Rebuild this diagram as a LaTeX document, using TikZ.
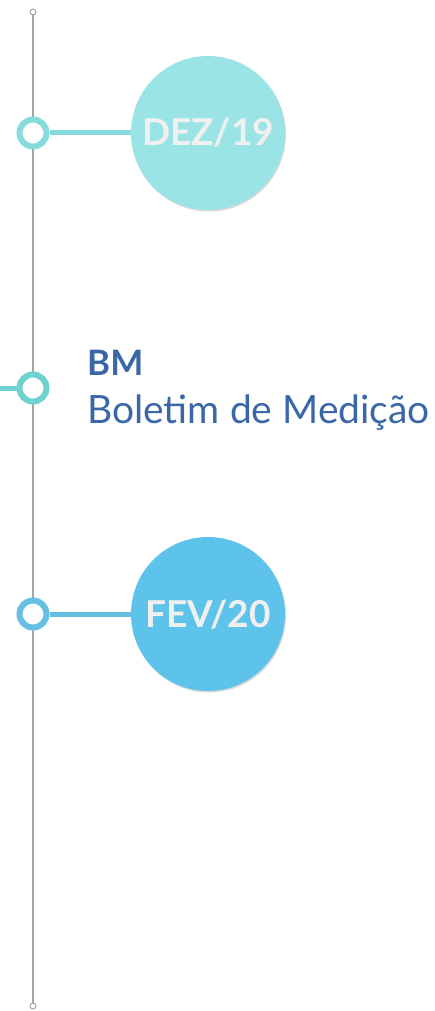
\documentclass[tikz,border=0pt]{standalone}
\usepackage{fontspec}
\setmainfont{Lato}
\usetikzlibrary{shadows}
\definecolor{axisgray}{HTML}{A4A4A4}
\definecolor{dezfill}{HTML}{9AE4E6}
\definecolor{dezring}{HTML}{86DCDD}
\definecolor{bmring}{HTML}{70D2CE}
\definecolor{fevfill}{HTML}{5EC3EB}
\definecolor{fevring}{HTML}{64BFE3}
\definecolor{bmtext}{HTML}{3A67A8}
\definecolor{datetext}{HTML}{F0F0F0}
\tikzset{
  x=1pt, y=-1pt,
  axisline/.style={draw=axisgray, line width=1.5pt},
  endring/.style={circle, draw=axisgray, line width=1pt, fill=white, minimum size=6pt, inner sep=0pt},
  ring/.style={circle, line width=6pt, fill=white, minimum size=27pt, inner sep=0pt},
  stem/.style={line width=5pt},
  bigdot/.style={circle, minimum size=154pt, inner sep=0pt, drop shadow={shadow xshift=1pt, shadow yshift=-1.5pt, opacity=0.3}},
  datelabel/.style={font=\fontsize{37}{40}\selectfont\bfseries, text=datetext},
}
\begin{document}
\begin{tikzpicture}
\useasboundingbox (0,0) rectangle (434,1011);
\coordinate (top) at (33,12);
\coordinate (bot) at (33,1006);
\draw[axisline] (top) -- (bot);
\node[endring] (topend) at (top) {};
\node[endring] (botend) at (bot) {};
% DEZ/19
\node[bigdot, fill=dezfill] (dez) at (208,133) {};
\node[ring, draw=dezring] (dezr) at (33,133) {};
\draw[stem, draw=dezring] (dezr.east) -- (dez.west);
\node[datelabel, anchor=base] at (208,146) {DEZ/19};
% BM
\coordinate (bmleft) at (0,388);
\node[ring, draw=bmring] (bmr) at (33,388) {};
\draw[stem, draw=bmring] (bmleft) -- (bmr.west);
\node[anchor=base west, inner sep=0pt, text=bmtext, font=\fontsize{35}{38}\selectfont\bfseries] (bm) at (87,375) {BM};
\node[anchor=base west, inner sep=0pt, text=bmtext, font=\fontsize{39}{42}\selectfont] (bmdesc) at (87,423) {Boletim de Medição};
% FEV/20
\node[bigdot, fill=fevfill] (fev) at (208,614) {};
\node[ring, draw=fevring] (fevr) at (33,614) {};
\draw[stem, draw=fevring] (fevr.east) -- (fev.west);
\node[datelabel, anchor=base] at (208,627) {FEV/20};
\end{tikzpicture}
\end{document}
